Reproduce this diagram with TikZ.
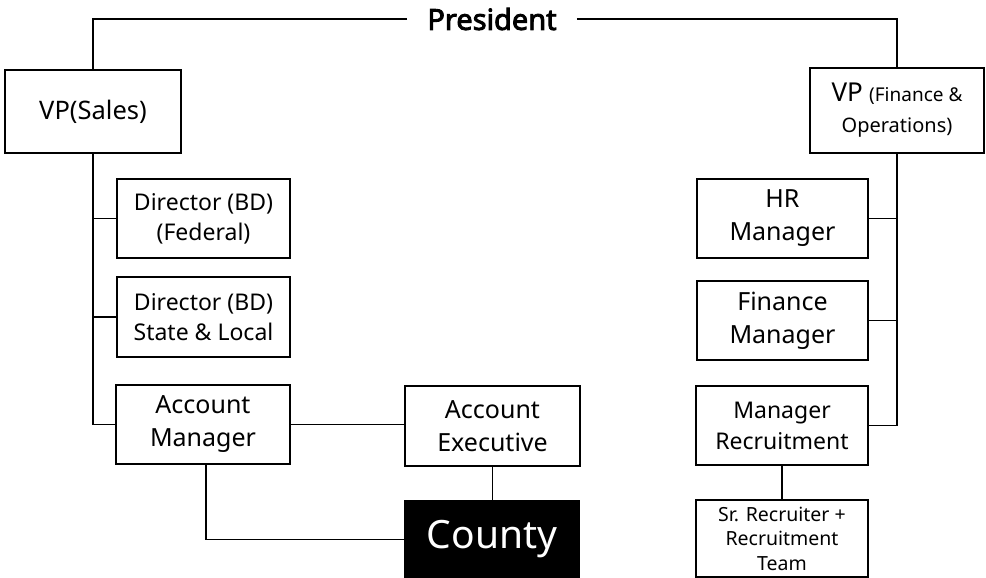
\documentclass[tikz,border=0pt]{standalone}
\usepackage{fontspec}
\setmainfont{Noto Sans}
\begin{document}
\begin{tikzpicture}[x=1pt,y=-1pt,
  box/.style={draw=black,line width=2.5pt,align=center,inner sep=0pt,font=\fs{24}{31}},
  link/.style={draw=black,line width=1.3pt},
]
\newcommand{\fs}[2]{\fontsize{#1pt}{#2pt}\selectfont}
\useasboundingbox (0,0) rectangle (986,578);

% top of the chart
\node[font=\fs{29}{32}\addfontfeature{FakeBold=3},inner xsep=20pt,inner ysep=0pt] (pres) at (492,19) {President};

% vice presidents
\node[box,minimum width=176pt,minimum height=83pt,font=\fs{25.5}{31}] (vps) at (93,111.5) {VP(Sales)};
\node[box,minimum width=174pt,minimum height=85pt] (vpf) at (897,110.5)
  {{\fs{26}{30}VP} {\fs{19}{26}(Finance \&}\\{\fs{20}{26}Operations)}};

% sales branch
\node[box,minimum width=173pt,minimum height=79pt,font=\fs{23}{30}] (dfed) at (203.5,218.5) {Director (BD)\\(Federal)};
\node[box,minimum width=173pt,minimum height=80pt,font=\fs{23}{30}] (dsl) at (203.5,317) {Director (BD)\\State \& Local};
\node[box,minimum width=174pt,minimum height=79pt,font=\fs{25}{33}] (am) at (203,424.5) {Account\\Manager};
\node[box,minimum width=175pt,minimum height=80pt,font=\fs{25}{33}] (ae) at (492.5,426) {Account\\Executive};
\node[box,fill=black,text=white,minimum width=174pt,minimum height=77pt,font=\fs{39}{44}] (county) at (492,539.5) {County};

% finance & operations branch
\node[box,minimum width=171pt,minimum height=79pt,font=\fs{25}{33}] (hr) at (782.5,218.5) {HR\\Manager};
\node[box,minimum width=171pt,minimum height=79pt,font=\fs{25}{33}] (fm) at (782.5,320.5) {Finance\\Manager};
\node[box,minimum width=172pt,minimum height=79pt,font=\fs{23}{31}] (mr) at (782,425.5) {Manager\\Recruitment};
\node[box,minimum width=172pt,minimum height=77pt,font=\fs{19.5}{24.5}] (sr) at (782,538.5) {\raisebox{-2pt}{\parbox{160pt}{\centering Sr. Recruiter +\\Recruitment\\Team}}};

% connectors
\draw[link] (pres.west) -| (vps.north);
\draw[link] (pres.east) -| (vpf.north);
\draw[link] (vps.south) |- (am.west);
\draw[link] (dfed.west) -- (dfed.west -| vps.south);
\draw[link] (dsl.west) -- (dsl.west -| vps.south);
\draw[link] (am.east) -- (am.east -| ae.west);
\draw[link] (ae.south) -- (ae.south |- county.north);
\draw[link] ([xshift=3pt]am.south) |- (county.west);
\draw[link] (vpf.south) |- (mr.east);
\draw[link] (hr.east) -- (hr.east -| vpf.south);
\draw[link] (fm.east) -- (fm.east -| vpf.south);
\draw[link] (mr.south) -- (sr.north);
\end{tikzpicture}
\end{document}
